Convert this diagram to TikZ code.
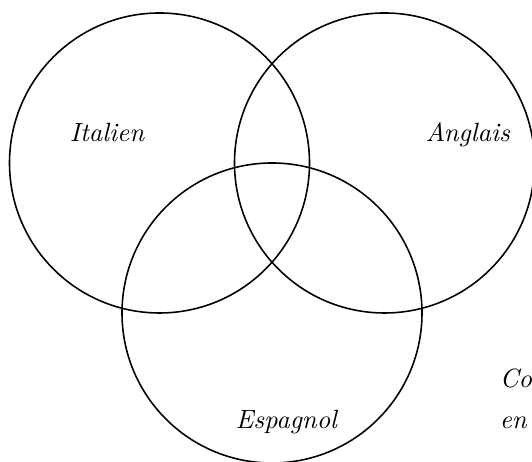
\documentclass[tikz,border=0pt]{standalone}
\begin{document}
\begin{tikzpicture}[
  set/.style={draw=black, line width=0.6pt},
  lab/.style={font=\itshape, inner sep=0pt, anchor=base}
]
\useasboundingbox (-2.1267,-3.9867) rectangle (4.9667,2.1733);
\draw[set] (0,0) coordinate (cA) circle (2cm);
\draw[set] (3,0) coordinate (cB) circle (2cm);
\draw[set] (1.5,-2) coordinate (cC) circle (2cm);
\node[lab] (ital) at (-0.70,0.293) {Italien};
\node[lab] (angl) at (4.11,0.293) {Anglais};
\node[lab] (esp) at (1.69,-3.537) {Espagnol};
\node[lab, anchor=base west] (co) at (4.53,-3.0) {Co};
\node[lab, anchor=base west] (en) at (4.53,-3.537) {en};
\end{tikzpicture}
\end{document}
